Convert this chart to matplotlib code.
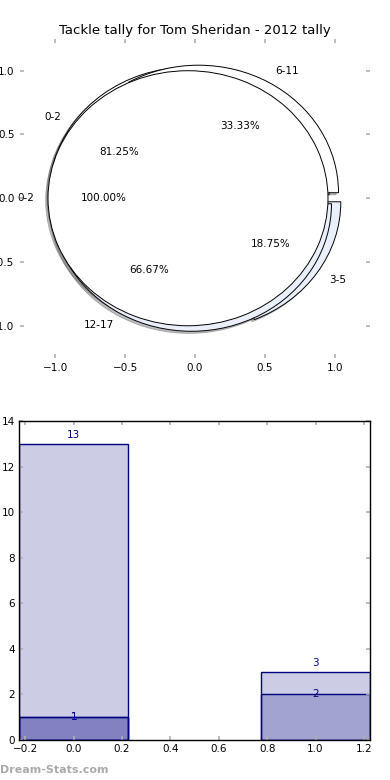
import matplotlib
matplotlib.use("Agg")
import matplotlib.pyplot as plt

# tackle counts per age group, three overlaid series
groups_a = ['0-2', '3-5']
tackles_a = [13, 3]
groups_b = ['6-11', '12-17']
tackles_b = [1, 2]
groups_c = ['0-2']
tackles_c = [1]

bar_x_a = [0, 1]
bar_x_b = [0, 1]
bar_x_c = [0]

title = "Tackle tally for Tom Sheridan - 2012 tally"
light = '#eaf0fb'
tick_grey = '#b0b0b0'

fig = plt.figure(figsize=(3.9, 7.8), dpi=100)

# --- pie part ---
ax1 = fig.add_axes([0.0513, 0.5415, 0.8974, 0.4087])
wedge_style = dict(edgecolor='black', linewidth=0.7)
shadow_style = dict(ox=-0.012, oy=-0.012, alpha=0.35)
ax1.pie(tackles_a, labels=groups_a, autopct='%.2f%%', explode=[0.05, 0.05],
        colors=['white', light], shadow=shadow_style,
        wedgeprops=wedge_style, textprops=dict(fontsize=7.5))
ax1.pie(tackles_b, labels=groups_b, autopct='%.2f%%', explode=[0.05, 0.05],
        colors=['white', light], shadow=shadow_style,
        wedgeprops=wedge_style, textprops=dict(fontsize=7.5))
ax1.pie(tackles_c, labels=groups_c, autopct='%.2f%%', explode=[0.05],
        colors=['white'], shadow=shadow_style,
        wedgeprops=wedge_style, textprops=dict(fontsize=7.5))
ax1.set_aspect('auto')
ax1.set_xlim(-1.25, 1.25)
ax1.set_ylim(-1.25, 1.25)
ax1.set_frame_on(False)
ax1.set_xticks([-1.0, -0.5, 0.0, 0.5, 1.0])
ax1.set_yticks([-1.0, -0.5, 0.0, 0.5, 1.0])
ax1.tick_params(direction='in', length=3, width=1.2, color=tick_grey,
                labelsize=7.5, top=True, right=True, pad=4)

fig.text(0.5, 0.9615, title, ha='center', va='center', fontsize=9.5)

# --- bar part ---
ax2 = fig.add_axes([0.0495, 0.0513, 0.899, 0.4086])
ax2.bar(bar_x_a, tackles_a, width=0.45, color='navy', alpha=0.2)
ax2.bar(bar_x_a, tackles_a, width=0.45, fill=False, edgecolor='navy', linewidth=1)
ax2.bar(bar_x_b, tackles_b, width=0.45, color='navy', alpha=0.2)
ax2.bar(bar_x_b, tackles_b, width=0.45, fill=False, edgecolor='navy', linewidth=1)
ax2.bar(bar_x_c, tackles_c, width=0.45, color='navy', alpha=0.2)
ax2.bar(bar_x_c, tackles_c, width=0.45, fill=False, edgecolor='navy', linewidth=1)

for x, h in zip(bar_x_a, tackles_a):
    ax2.text(x, h + 0.4, str(h), ha='center', va='center', color='navy', fontsize=7.5)
for x, h in zip(bar_x_b, tackles_b):
    ax2.text(x, h, str(h), ha='center', va='center', color='navy', fontsize=7.5)
for x, h in zip(bar_x_c, tackles_c):
    ax2.text(x, h, str(h), ha='center', va='center', color='navy', fontsize=7.5)

ax2.set_xlim(-0.225, 1.225)
ax2.set_ylim(0, 14)
ax2.set_xticks([-0.2, 0.0, 0.2, 0.4, 0.6, 0.8, 1.0, 1.2])
ax2.set_yticks(range(0, 15, 2))
ax2.tick_params(direction='in', length=3, width=1.2, color=tick_grey,
                labelsize=7.5, top=True, right=True, pad=3)
for s in ax2.spines.values():
    s.set_linewidth(1)
    s.set_color('black')

fig.text(0.0, 1 - 770 / 780, 'Dream-Stats.com', ha='left', va='center',
         fontsize=8, fontweight='bold', color='#aaaaaa')

fig.savefig('out.png', dpi=100)
